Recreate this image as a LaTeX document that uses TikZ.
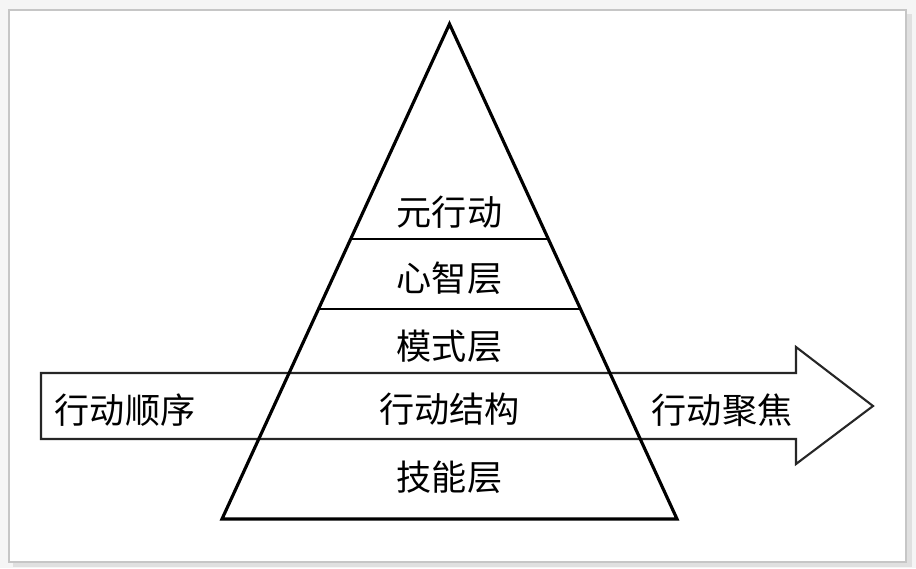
\documentclass[tikz,border=0pt]{standalone}
\usepackage{fontspec}
\newfontfamily\cjk{Noto Sans CJK SC}
\usetikzlibrary{positioning,calc}

\begin{document}
\begin{tikzpicture}[
            x=0.02cm,
            y=-0.02cm,
            frame/.style={
                draw=gray!45,
                line width=1.6pt,
                fill=white
            },
            flow/.style={
                draw=black!85,
                line width=1.2pt,
                line join=miter
            },
            pyr/.style={
                draw=black,
                line width=1.8pt,
                line join=miter
            },
            sep/.style={
                draw=black,
                line width=1.2pt
            },
            lbl/.style={
                font=\cjk\fontsize{20}{21}\selectfont,
                inner sep=0pt
            }
        ]

            % Page and frame
            \fill[gray!8] (0,0) rectangle (916,568);
            \fill[gray!24] (13,14) rectangle (912,567);
            \draw[frame] (9,10) rectangle (906,562);
            \useasboundingbox (0,0) rectangle (916,568);

            % Arrow parameters
            \def\xArrL{41}
            \def\xArrR{796}
            \def\xTip{873}
            \def\yArrT{373}
            \def\yArrB{439}
            \def\yHeadT{347}
            \def\yHeadB{464}

            % Flow arrow
            \draw[flow]
            (\xArrL,\yArrT) -- (\xArrR,\yArrT) -- (\xArrR,\yHeadT) -- (\xTip,406)
            -- (\xArrR,\yHeadB) -- (\xArrR,\yArrB) -- (\xArrL,\yArrB) -- cycle;

            % Pyramid corners
            \coordinate (apex) at (449.5,24);
            \coordinate (bl) at (222,519);
            \coordinate (br) at (677,519);

            % Layer separators
            \foreach \t [count=\k] in {0.434,0.575} {
                \coordinate (sl\k) at ($(apex)!\t!(bl)$);
                \coordinate (sr\k) at ($(apex)!\t!(br)$);
                \draw[sep] (sl\k) -- (sr\k);
            }

            % Pyramid outline
            \draw[pyr] (apex) -- (br) -- (bl) -- cycle;

            % Layer labels
            \foreach \txt/\y/\nm in {元行动/212/meta, 心智层/278/mind, 模式层/346/mode, 行动结构/409/struct, 技能层/477/skill} {
                \node[lbl] (\nm) at (449.5,\y) {\txt};
            }

            % Arrow labels
            \node[lbl] (order) at (125,410) {行动顺序};
            \node[lbl] (focus) at (722,410) {行动聚焦};

        \end{tikzpicture}
\end{document}
